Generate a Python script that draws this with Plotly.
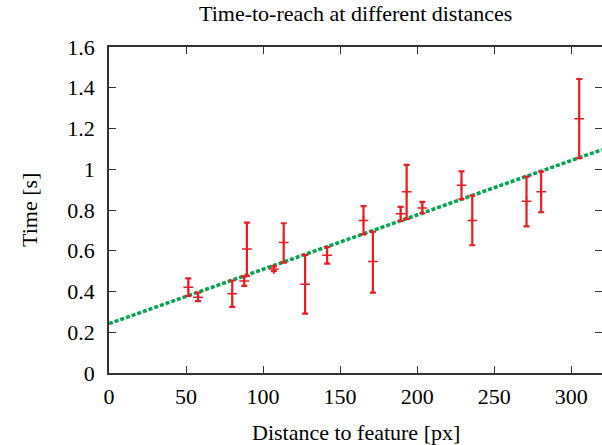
import plotly.graph_objects as go

distance = [51.5, 57.8, 80.0, 87.8, 89.5, 107.0, 113.4, 127.3, 141.6, 165.2,
            171.3, 189.3, 193.2, 203.4, 228.8, 235.8, 271.0, 280.5, 305.2]
time_mean = [0.421, 0.372, 0.389, 0.452, 0.608, 0.510, 0.640, 0.436, 0.578, 0.748,
             0.547, 0.781, 0.889, 0.810, 0.921, 0.748, 0.843, 0.889, 1.248]
err_plus = [0.043, 0.023, 0.065, 0.022, 0.130, 0.013, 0.095, 0.144, 0.040, 0.071,
            0.147, 0.034, 0.132, 0.030, 0.069, 0.123, 0.121, 0.099, 0.195]
err_minus = [0.042, 0.019, 0.064, 0.024, 0.131, 0.010, 0.098, 0.145, 0.041, 0.068,
             0.153, 0.034, 0.133, 0.026, 0.068, 0.121, 0.123, 0.100, 0.193]

fit_intercept = 0.242
fit_slope = 0.00267
fit_x = [0, 320]
fit_y = [fit_intercept + fit_slope * v for v in fit_x]

x_ticks = [0, 50, 100, 150, 200, 250, 300]
y_ticks = [0, 0.2, 0.4, 0.6, 0.8, 1.0, 1.2, 1.4, 1.6]
y_tick_text = ["0", "0.2", "0.4", "0.6", "0.8", "1", "1.2", "1.4", "1.6"]

title_text = "Time-to-reach at different distances"
x_title = "Distance to feature [px]"
y_title = "Time [s]"

red = "#ec1c24"
green = "#00a550"
font = "Liberation Serif"
tfont = dict(family=font, size=22, color="black")

fig = go.Figure()
fig.add_trace(go.Scatter(
    x=fit_x, y=fit_y, mode="lines",
    line=dict(color=green, width=3.5, dash="4px,2px"),
    hoverinfo="skip", showlegend=False))
fig.add_trace(go.Scatter(
    x=distance, y=time_mean, mode="markers",
    marker=dict(symbol="cross-thin", size=7, color=red,
                line=dict(color=red, width=1.5)),
    error_y=dict(type="data", symmetric=False, array=err_plus,
                 arrayminus=err_minus, color=red, thickness=2.2, width=3),
    showlegend=False))

fig.update_layout(
    width=602, height=445,
    margin=dict(l=109, r=0, t=47, b=72, autoexpand=False),
    paper_bgcolor="white", plot_bgcolor="white",
    font=tfont,
    annotations=[
        dict(text=title_text, xref="paper", yref="paper", x=0.5, y=1,
             yshift=34, showarrow=False, xanchor="center", yanchor="middle",
             font=tfont),
        dict(text=x_title, xref="paper", yref="paper", x=0.5, y=0,
             yshift=-59, showarrow=False, xanchor="center", yanchor="middle",
             font=tfont),
        dict(text=y_title, xref="paper", yref="paper", x=0, y=0.5,
             xshift=-80, showarrow=False, xanchor="center", yanchor="middle",
             textangle=-90, font=tfont),
    ],
)
fig.update_xaxes(
    range=[0, 320], tickvals=x_ticks, ticks="inside", ticklen=7,
    tickcolor="#333", showline=True, linecolor="#333", linewidth=1.5,
    mirror="ticks", showgrid=False, zeroline=False, automargin=False,
    tickfont=tfont, ticklabelstandoff=3,
)
fig.update_yaxes(
    range=[0, 1.6], tickvals=y_ticks, ticktext=y_tick_text, ticks="inside",
    ticklen=7, tickcolor="#333", showline=True, linecolor="#333", linewidth=1.5,
    mirror="ticks", showgrid=False, zeroline=False, automargin=False,
    tickfont=tfont, ticklabelstandoff=8,
)

fig.write_html("out.html", config={"displayModeBar": False},
               post_script="document.body.style.margin='0';")
